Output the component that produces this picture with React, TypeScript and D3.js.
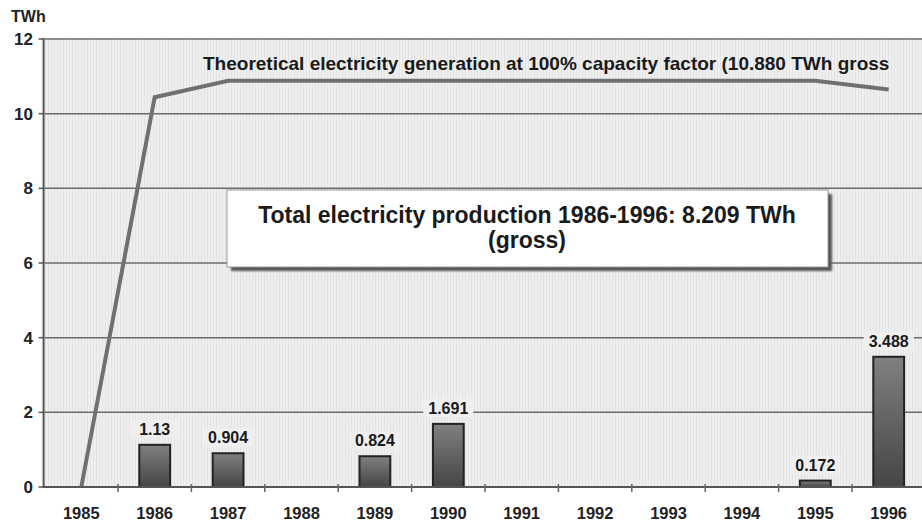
import React from 'react';
import * as d3 from 'd3';

// chart data
const years = ['1985', '1986', '1987', '1988', '1989', '1990', '1991', '1992', '1993', '1994', '1995', '1996'];
const production = [null, 1.13, 0.904, null, 0.824, 1.691, null, null, null, null, 0.172, 3.488];
const productionLabels = ['', '1.13', '0.904', '', '0.824', '1.691', '', '', '', '', '0.172', '3.488'];
const theoretical = [0, 10.44, 10.88, 10.88, 10.88, 10.88, 10.88, 10.88, 10.88, 10.88, 10.88, 10.65];
const yTicks = [0, 2, 4, 6, 8, 10, 12];

const lineLabel = 'Theoretical electricity generation at 100% capacity factor (10.880 TWh gross';
const boxLines = ['Total electricity production 1986-1996: 8.209 TWh', '(gross)'];

const W = 922;
const H = 527;
const left = 44.6;
const right = 925.4;
const top = 39;
const bottom = 487;

const font = '"Liberation Sans", Arial, sans-serif';

const App = () => {
  const x = d3.scaleBand<string>().domain(years).range([left, right]).paddingInner(0.58).paddingOuter(0.29);
  const step = x.step();
  const cx = (d: string) => (x(d) as number) + x.bandwidth() / 2;
  const y = d3.scaleLinear().domain([0, 12]).range([bottom, top]);

  const line = d3
    .line<number>()
    .x((_, i) => cx(years[i]))
    .y((d) => y(d));

  return (
    <svg width={W} height={H} style={{ position: 'absolute', left: 0, top: 0, background: '#fff' }}>
      <defs>
        <pattern id="stripes" width="3" height="10" patternUnits="userSpaceOnUse">
          <rect width="3" height="10" fill="#efefef" />
          <rect width="1" height="10" fill="#e3e3e3" />
        </pattern>
        <linearGradient id="barFill" x1="0" y1="0" x2="0" y2="1">
          <stop offset="0%" stopColor="#808080" />
          <stop offset="100%" stopColor="#454545" />
        </linearGradient>
        <filter id="blur" x="-10%" y="-10%" width="120%" height="130%">
          <feGaussianBlur stdDeviation="1.2" />
        </filter>
      </defs>

      {/* plot background */}
      <rect x={left} y={top} width={right - left} height={bottom - top} fill="url(#stripes)" />

      {/* horizontal gridlines */}
      {yTicks.filter((t) => t > 0).map((t) => (
        <line key={t} x1={left} x2={W} y1={y(t)} y2={y(t)} stroke="#6c6c6c" strokeWidth={1.5} />
      ))}

      {/* y axis */}
      <line x1={left - 1} x2={left - 1} y1={top - 1} y2={bottom + 1} stroke="#555" strokeWidth={2} />
      {yTicks.map((t) => (
        <g key={t}>
          <line x1={left - 6} x2={left - 1} y1={y(t)} y2={y(t)} stroke="#555" strokeWidth={1.5} />
          <text
            x={33}
            y={y(t)}
            dy="0.36em"
            textAnchor="end"
            fontFamily={font}
            fontWeight="bold"
            fontSize={17}
            fill="#222"
          >
            {t}
          </text>
        </g>
      ))}
      <text x={11} y={22} fontFamily={font} fontWeight="bold" fontSize={16} fill="#222">
        TWh
      </text>

      {/* summary box */}
      <rect x={231} y={194} width={601} height={77} fill="#555" filter="url(#blur)" />
      <rect x={227} y={190} width={601} height={77} fill="#fff" stroke="#9a9a9a" strokeWidth={1} />
      {boxLines.map((s, i) => (
        <text
          key={s}
          x={527}
          y={223 + i * 25}
          textAnchor="middle"
          fontFamily={font}
          fontWeight="bold"
          fontSize={23}
          fill="#1a1a1a"
        >
          {s}
        </text>
      ))}

      {/* theoretical generation line */}
      <path d={line(theoretical) as string} fill="none" stroke="#707070" strokeWidth={4} />
      <text x={203} y={70} fontFamily={font} fontWeight="bold" fontSize={19} fill="#1a1a1a">
        {lineLabel}
      </text>

      {/* bars */}
      {years.map((yr, i) => {
        const v = production[i];
        if (v == null) return null;
        const bx = x(yr) as number;
        return (
          <g key={yr}>
            <rect
              x={bx}
              y={y(v)}
              width={x.bandwidth()}
              height={y(0) - y(v)}
              fill="url(#barFill)"
              stroke="#222"
              strokeWidth={2}
            />
            <rect x={cx(yr) - 25} y={y(v) - 25} width={50} height={18} fill="#efefef" />
            <text
              x={cx(yr)}
              y={y(v) - 10}
              textAnchor="middle"
              fontFamily={font}
              fontWeight="bold"
              fontSize={16}
              fill="#1a1a1a"
            >
              {productionLabels[i]}
            </text>
          </g>
        );
      })}

      {/* x axis */}
      <line x1={left - 1} x2={W} y1={bottom} y2={bottom} stroke="#555" strokeWidth={2} />
      {years.map((yr, i) => (
        <g key={yr}>
          {i > 0 && (
            <line
              x1={left + step * i}
              x2={left + step * i}
              y1={bottom - 3}
              y2={bottom + 5}
              stroke="#666"
              strokeWidth={1.5}
            />
          )}
          <text
            x={cx(yr)}
            y={519}
            textAnchor="middle"
            fontFamily={font}
            fontWeight="bold"
            fontSize={16.5}
            fill="#222"
          >
            {yr}
          </text>
        </g>
      ))}
    </svg>
  );
};

export default App;
